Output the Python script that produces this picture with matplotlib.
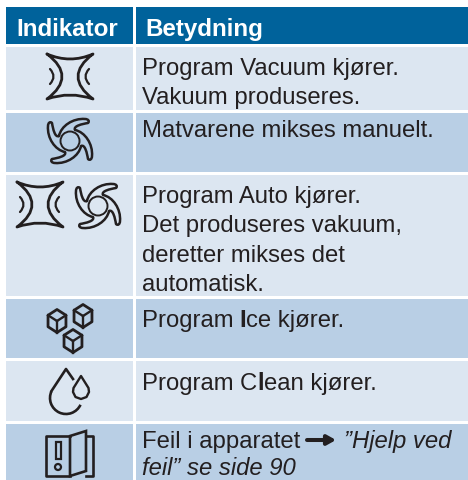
import numpy as np
import matplotlib.pyplot as plt
from matplotlib.path import Path
from matplotlib.patches import PathPatch, Rectangle, Circle, Arc, Polygon

plt.rcParams['font.family'] = ['Liberation Sans', 'DejaVu Sans']

W, H = 468, 481
DARK = '#231F20'
HEAD = '#00629B'
LIGHT = '#DCE6F1'
BLUE = '#B9CFE5'

headers = ['Indikator', 'Betydning']
row_lines = [
    ['Program Vacuum kjører.', 'Vakuum produseres.'],
    ['Matvarene mikses manuelt.'],
    ['Program Auto kjører.', 'Det produseres vakuum,', 'deretter mikses det', 'automatisk.'],
    ['Program Ice kjører.'],
    ['Program Clean kjører.'],
    ['Feil i apparatet', 'feil” se side 90'],
]
error_link = '”Hjelp ved'

row_top = [48, 114, 176, 300, 362, 425]
row_bot = [111, 173, 297, 359, 422, 481]
row_base = [[75, 104], [137], [203, 232, 262, 291], [327], [390], [448, 475]]
row_fill = [LIGHT, BLUE, LIGHT, BLUE, LIGHT, BLUE]

fig = plt.figure(figsize=(W / 100, H / 100), dpi=100)
ax = fig.add_axes([0, 0, 1, 1])
ax.set_xlim(0, W)
ax.set_ylim(H, 0)
ax.axis('off')

FS = 17.2


def stroke(verts, codes=None, lw=1.8):
    p = Path(verts, codes) if codes else Path(verts)
    ax.add_patch(PathPatch(p, fc='none', ec=DARK, lw=lw, joinstyle='round', capstyle='round'))


def vacuum_icon(dx, dy):
    c3 = Path.CURVE3
    v = [(47, 55), (70, 65), (93, 55), (63, 77.5), (93, 100), (70, 92), (47, 100), (77, 77.5), (47, 55)]
    v = [(x + dx, y + dy) for x, y in v]
    stroke(v, [Path.MOVETO] + [c3] * 8, lw=2.0)
    for arc in ([(50, 70), (57, 77.5), (50, 85)], [(89, 70), (82, 77.5), (89, 85)]):
        stroke([(x + dx, y + dy) for x, y in arc], [Path.MOVETO, c3, c3], lw=1.6)


def fan_icon(cx, cy):
    blade = [(-11, -5), (-9, -15), (3, -23), (15, -22), (18, -22), (20, -20), (18, -18), (12, -17), (3, -15), (5, -11)]
    verts, codes = [], []
    for k in range(4):
        pts = blade
        for _ in range(k):
            pts = [(-y, x) for x, y in pts]
        if k == 0:
            verts.append((pts[0][0] + cx, pts[0][1] + cy))
            codes.append(Path.MOVETO)
        for x, y in pts[1:]:
            verts.append((x + cx, y + cy))
            codes.append(Path.CURVE4)
    stroke(verts, codes, lw=1.8)
    ax.add_patch(Circle((cx, cy), 9.5, fc='none', ec=DARK, lw=1.4))


def cube_icon(cx, cy, r=11.5):
    ang = np.radians([90, 30, -30, -90, -150, 150])
    hx = cx + 0.9 * r * np.cos(ang)
    hy = cy + r * np.sin(ang)
    ax.add_patch(Polygon(np.c_[hx, hy], closed=True, fc='none', ec=DARK, lw=2.0, joinstyle='round'))
    for i in (0, 2, 4):
        ax.plot([cx, hx[i]], [cy, hy[i]], color=DARK, lw=1.7)


def drop_icons():
    ax.add_patch(Arc((66, 399), 32, 32, theta1=25, theta2=205, ec=DARK, lw=1.9))
    ax.plot([51.5, 66, 73], [392, 370, 380], color=DARK, lw=1.9, solid_joinstyle='round')
    ax.add_patch(Polygon([(81, 377), (88.5, 389), (89, 393), (86.5, 398), (81, 400), (75.5, 398), (73, 393), (73.5, 389)],
                         closed=True, fc='none', ec=DARK, lw=1.7, joinstyle='round'))


def door_icon():
    ax.plot([70, 46, 46, 70], [437, 437, 477, 477], color=DARK, lw=1.9)
    ax.plot([86, 93, 93, 86], [437, 437, 477, 477], color=DARK, lw=1.9)
    ax.add_patch(Polygon([(70, 437), (86, 432), (86, 472), (70, 477)], closed=True, fc='none', ec=DARK, lw=1.9))
    ax.add_patch(Rectangle((55.5, 443), 5, 17, fc='none', ec=DARK, lw=1.6))
    ax.add_patch(Circle((58, 468), 3, fc='none', ec=DARK, lw=1.6))


# header
ax.add_patch(Rectangle((6, 8), 127, 37, fc=HEAD, ec='none'))
ax.add_patch(Rectangle((136, 8), W - 136, 37, fc=HEAD, ec='none'))
ax.text(16, 36, headers[0], color='white', fontsize=17.4, fontweight='bold', va='baseline')
ax.text(145, 36, headers[1], color='white', fontsize=17.4, fontweight='bold', va='baseline')

# rows
for top, bot, fill, lines, bases in zip(row_top, row_bot, row_fill, row_lines, row_base):
    ax.add_patch(Rectangle((6, top), 127, bot - top, fc=fill, ec='none'))
    ax.add_patch(Rectangle((136, top), W - 136, bot - top, fc=fill, ec='none'))
    for line, yb in zip(lines, bases):
        if 'Ice' in line or 'Clean' in line:
            continue
        ax.text(142, yb, line, color=DARK, fontsize=FS, va='baseline',
                style='italic' if line.startswith('feil') else 'normal')

# program names with the heavy I / l
ax.text(142, 327, 'Program', color=DARK, fontsize=FS, va='baseline')
ax.text(239, 327, 'I', color=DARK, fontsize=FS, fontweight='bold', va='baseline')
ax.text(246, 327, 'ce kjører.', color=DARK, fontsize=FS, va='baseline')
ax.text(142, 390, 'Program', color=DARK, fontsize=FS, va='baseline')
ax.text(240, 390, 'C', color=DARK, fontsize=FS, va='baseline')
ax.text(257, 390, 'l', color=DARK, fontsize=FS, fontweight='bold', va='baseline')
ax.text(264, 390, 'ean kjører.', color=DARK, fontsize=FS, va='baseline')

# arrow and link in the last row
ax.annotate('', xy=(336, 441), xytext=(307, 441),
            arrowprops=dict(arrowstyle='-|>,head_length=0.5,head_width=0.28', color=DARK, lw=2.9,
                            shrinkA=0, shrinkB=0))
ax.text(344, 448, error_link, color=DARK, fontsize=FS, style='italic', va='baseline')

vacuum_icon(0, 0)
fan_icon(70, 142)
vacuum_icon(-30, 128)
fan_icon(98, 207)
cube_icon(57, 322)
cube_icon(83, 317)
cube_icon(73, 342)
drop_icons()
door_icon()

fig.savefig('out.png', dpi=100)
